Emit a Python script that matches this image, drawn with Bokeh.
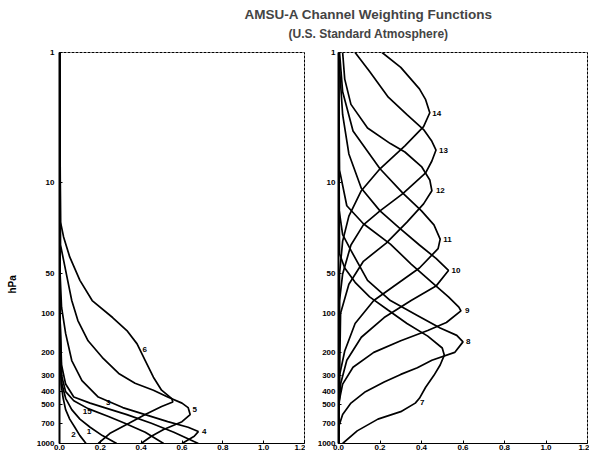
import numpy as np
from bokeh.plotting import figure
from bokeh.models import Range1d, FixedTicker, Label, ColumnDataSource, PrintfTickFormatter
from bokeh.layouts import column, row
from bokeh.embed import file_html
from bokeh.resources import INLINE
from bokeh.core.properties import value

TITLE = "AMSU-A Channel Weighting Functions"
SUBTITLE = "(U.S. Standard Atmosphere)"
Y_LABEL = "hPa"

y_ticks = [1, 10, 50, 100, 200, 300, 400, 500, 700, 1000]
y_tick_labels = ["1", "10", "50", "100", "200", "300", "400", "500", "700", "1000"]
x_ticks = [0.0, 0.2, 0.4, 0.6, 0.8, 1.0, 1.2]

# ---- left panel channels (pressure hPa, weight) ----
p_ch1 = [1, 50, 200, 350, 450, 550, 650, 750, 870, 1000]
w_ch1 = [0.0, 0.001, 0.004, 0.012, 0.03, 0.06, 0.10, 0.15, 0.21, 0.28]
p_ch2 = [1, 50, 200, 350, 450, 550, 650, 750, 870, 1000]
w_ch2 = [0.0, 0.001, 0.003, 0.008, 0.018, 0.03, 0.05, 0.075, 0.10, 0.13]
p_ch3 = [1, 100, 250, 350, 440, 490, 530, 600, 700, 820, 1000]
w_ch3 = [0.0, 0.002, 0.01, 0.03, 0.07, 0.15, 0.22, 0.33, 0.45, 0.56, 0.68]
p_ch4 = [1, 50, 90, 143, 231, 329, 440, 530, 600, 680, 750, 810, 880, 1000]
w_ch4 = [0.0, 0.003, 0.01, 0.03, 0.06, 0.11, 0.19, 0.31, 0.42, 0.53, 0.63, 0.68, 0.66, 0.60]
p_ch5 = [1, 30, 56, 80, 114, 163, 219, 290, 345, 390, 440, 490, 530, 600, 680, 780, 880, 1000]
w_ch5 = [0.0, 0.005, 0.04, 0.06, 0.09, 0.14, 0.21, 0.29, 0.37, 0.46, 0.53, 0.60, 0.63, 0.64, 0.60, 0.51, 0.45, 0.40]
p_ch6 = [1, 20, 26, 37, 56, 80, 108, 136, 172, 231, 310, 390, 452, 480, 520, 600, 700, 830, 1000]
w_ch6 = [0.0, 0.005, 0.02, 0.05, 0.10, 0.16, 0.26, 0.33, 0.38, 0.42, 0.46, 0.50, 0.55, 0.555, 0.50, 0.42, 0.34, 0.25, 0.19]
p_ch15 = [1, 100, 300, 400, 470, 540, 620, 700, 820, 1000]
w_ch15 = [0.0, 0.002, 0.01, 0.03, 0.07, 0.14, 0.24, 0.32, 0.42, 0.51]

# ---- right panel channels ----
p_ch7 = [1, 35, 45, 58, 75, 95, 120, 150, 185, 210, 250, 300, 370, 450, 490, 570, 650, 800, 1000]
w_ch7 = [0.0, 0.005, 0.03, 0.08, 0.15, 0.24, 0.33, 0.43, 0.50, 0.51, 0.49, 0.46, 0.42, 0.39, 0.37, 0.30, 0.19, 0.09, 0.02]
p_ch8 = [1, 15, 25, 33, 56, 80, 104, 130, 148, 166, 200, 230, 262, 295, 337, 400, 490, 600, 750, 1000]
w_ch8 = [0.0, 0.0, 0.02, 0.06, 0.14, 0.25, 0.38, 0.49, 0.57, 0.60, 0.56, 0.45, 0.38, 0.30, 0.22, 0.13, 0.06, 0.02, 0.0, 0.0]
p_ch9 = [1, 8, 15, 20.6, 29.5, 42, 58, 75, 90, 96, 118, 136, 163, 200, 260, 350, 500, 1000]
w_ch9 = [0.0, 0.005, 0.04, 0.12, 0.25, 0.35, 0.45, 0.53, 0.58, 0.59, 0.52, 0.43, 0.30, 0.17, 0.07, 0.02, 0.0, 0.0]
p_ch10 = [1, 3, 6, 11, 16.4, 22, 30, 38, 47, 62, 80, 108, 153, 230, 350, 500, 1000]
w_ch10 = [0.0, 0.02, 0.05, 0.11, 0.20, 0.29, 0.39, 0.47, 0.53, 0.47, 0.35, 0.22, 0.11, 0.04, 0.01, 0.003, 0.0]
p_ch11 = [1, 2, 4, 7.8, 12, 16.4, 21, 27, 32, 45, 60, 80, 120, 195, 300, 1000]
w_ch11 = [0.005, 0.02, 0.07, 0.20, 0.31, 0.40, 0.46, 0.49, 0.48, 0.39, 0.28, 0.17, 0.08, 0.03, 0.005, 0.0]
p_ch12 = [1, 1.6, 2.5, 3.8, 5.0, 5.8, 7.5, 9.5, 11.5, 14.5, 20, 29, 40, 60, 100, 1000]
w_ch12 = [0.02, 0.03, 0.06, 0.14, 0.25, 0.32, 0.40, 0.44, 0.45, 0.41, 0.33, 0.23, 0.12, 0.05, 0.01, 0.0]
p_ch13 = [1, 1.4, 2.2, 3.0, 3.9, 4.8, 5.6, 6.8, 8.4, 12.1, 16.4, 21, 30, 50, 80, 1000]
w_ch13 = [0.08, 0.15, 0.24, 0.33, 0.41, 0.45, 0.47, 0.45, 0.42, 0.31, 0.20, 0.12, 0.06, 0.02, 0.005, 0.0]
p_ch14 = [1, 1.3, 1.9, 2.3, 2.9, 3.7, 5.2, 7.8, 11.5, 18, 28, 50, 1000]
w_ch14 = [0.21, 0.30, 0.39, 0.42, 0.44, 0.41, 0.32, 0.20, 0.11, 0.05, 0.02, 0.005, 0.0]

left_channels = ["1", "2", "3", "4", "5", "6", "15"]
left_p = [p_ch1, p_ch2, p_ch3, p_ch4, p_ch5, p_ch6, p_ch15]
left_w = [w_ch1, w_ch2, w_ch3, w_ch4, w_ch5, w_ch6, w_ch15]
right_channels = ["7", "8", "9", "10", "11", "12", "13", "14"]
right_p = [p_ch7, p_ch8, p_ch9, p_ch10, p_ch11, p_ch12, p_ch13, p_ch14]
right_w = [w_ch7, w_ch8, w_ch9, w_ch10, w_ch11, w_ch12, w_ch13, w_ch14]

# pressure on each curve where its number is written, and pixel offsets
left_label_p = [796, 835, 512, 809, 549, 190, 555]
left_label_dx = [-6, -5, 10, 6, 6, 5, -5]
left_label_dy = [1, 1, -3, 0, 0, 0, 1]
right_label_p = [484, 166, 96, 47, 27, 11.5, 5.6, 2.95]
right_label_dx = [4, 3, 4, 3, 3, 4, 3, 3]
right_label_dy = [0, 0, 0, 0, 0, 0, 0, 0]

FONT = "Liberation Sans"
PANEL_H = 408
YLAB_W = 22


def make_panel(width, border_left, border_right, standoff):
    p = figure(width=width, height=PANEL_H, x_range=Range1d(0, 1.2),
               y_range=Range1d(1000, 1), y_axis_type="log",
               output_backend="svg", toolbar_location=None,
               min_border_left=border_left, min_border_right=border_right,
               min_border_top=8, min_border_bottom=0)
    p.grid.visible = False
    p.background_fill_color = "white"
    p.border_fill_color = "white"
    p.outline_line_color = "black"
    p.outline_line_width = 1
    p.outline_line_dash = "3 1"
    p.yaxis.ticker = FixedTicker(ticks=y_ticks)
    p.yaxis.major_label_overrides = dict(zip(y_ticks, y_tick_labels))
    p.xaxis.ticker = FixedTicker(ticks=x_ticks)
    p.xaxis.formatter = PrintfTickFormatter(format="%.1f")
    for ax in (p.xaxis, p.yaxis):
        ax.major_label_text_font = FONT
        ax.major_label_text_font_style = "bold"
        ax.major_label_text_font_size = "8px"
        ax.major_label_text_color = "black"
        ax.axis_line_color = "black"
        ax.major_tick_out = 0
        ax.major_tick_in = 3
        ax.major_tick_line_color = "black"
        ax.minor_tick_line_color = None
    p.yaxis.axis_line_width = 2
    p.yaxis.major_label_standoff = standoff
    p.xaxis.axis_line_width = 1
    p.xaxis.major_label_standoff = 1
    return p


def add_curves(p, names, plist, wlist, lab_p, lab_dx, lab_dy, align):
    lx, ly = [], []
    for pp, ww, lp in zip(plist, wlist, lab_p):
        p.line(ww, pp, line_color="black", line_width=1.7)
        lx.append(float(np.interp(np.log10(lp), np.log10(pp), ww)))
        ly.append(lp)
    src = ColumnDataSource(dict(x=lx, y=ly, t=names, dx=lab_dx, dy=lab_dy))
    p.text(x="x", y="y", text="t", x_offset="dx", y_offset="dy", source=src,
           text_font=value(FONT), text_font_style="bold", text_font_size="8px",
           text_color="black", text_align=align, text_baseline="middle")


# narrow strip that carries the rotated "hPa" label
ylab = figure(width=YLAB_W, height=PANEL_H, x_range=Range1d(0, YLAB_W),
              y_range=Range1d(0, PANEL_H), output_backend="svg", toolbar_location=None,
              min_border=0, min_border_left=0, min_border_right=0,
              min_border_top=0, min_border_bottom=0)
ylab.axis.visible = False
ylab.grid.visible = False
ylab.outline_line_color = None
ylab.add_layout(Label(x=12, y=PANEL_H - 242, text=Y_LABEL, angle=np.pi / 2,
                      text_font=FONT, text_font_style="bold", text_font_size="10px",
                      text_color="black", text_align="center", text_baseline="middle"))

p1 = make_panel(305 - YLAB_W, 59 - YLAB_W, 1, 5)
add_curves(p1, left_channels, left_p, left_w, left_label_p, left_label_dx, left_label_dy, "center")

p2 = make_panel(284, 33, 2, 3)
add_curves(p2, right_channels, right_p, right_w, right_label_p, right_label_dx, right_label_dy, "left")

t = figure(width=589, height=44, x_range=Range1d(0, 589), y_range=Range1d(0, 44),
           output_backend="svg", toolbar_location=None,
           min_border=0, min_border_left=0, min_border_right=0, min_border_top=0, min_border_bottom=0)
t.axis.visible = False
t.grid.visible = False
t.outline_line_color = None
t.add_layout(Label(x=368, y=30, text=TITLE, text_font=FONT, text_font_style="bold",
                   text_font_size="13.5px", text_align="center", text_baseline="middle"))
t.add_layout(Label(x=368, y=11, text=SUBTITLE, text_font=FONT, text_font_style="bold",
                   text_font_size="12px", text_align="center", text_baseline="middle"))

layout = column(t, row(ylab, p1, p2))
open("out.html", "w").write(file_html(layout, INLINE))
